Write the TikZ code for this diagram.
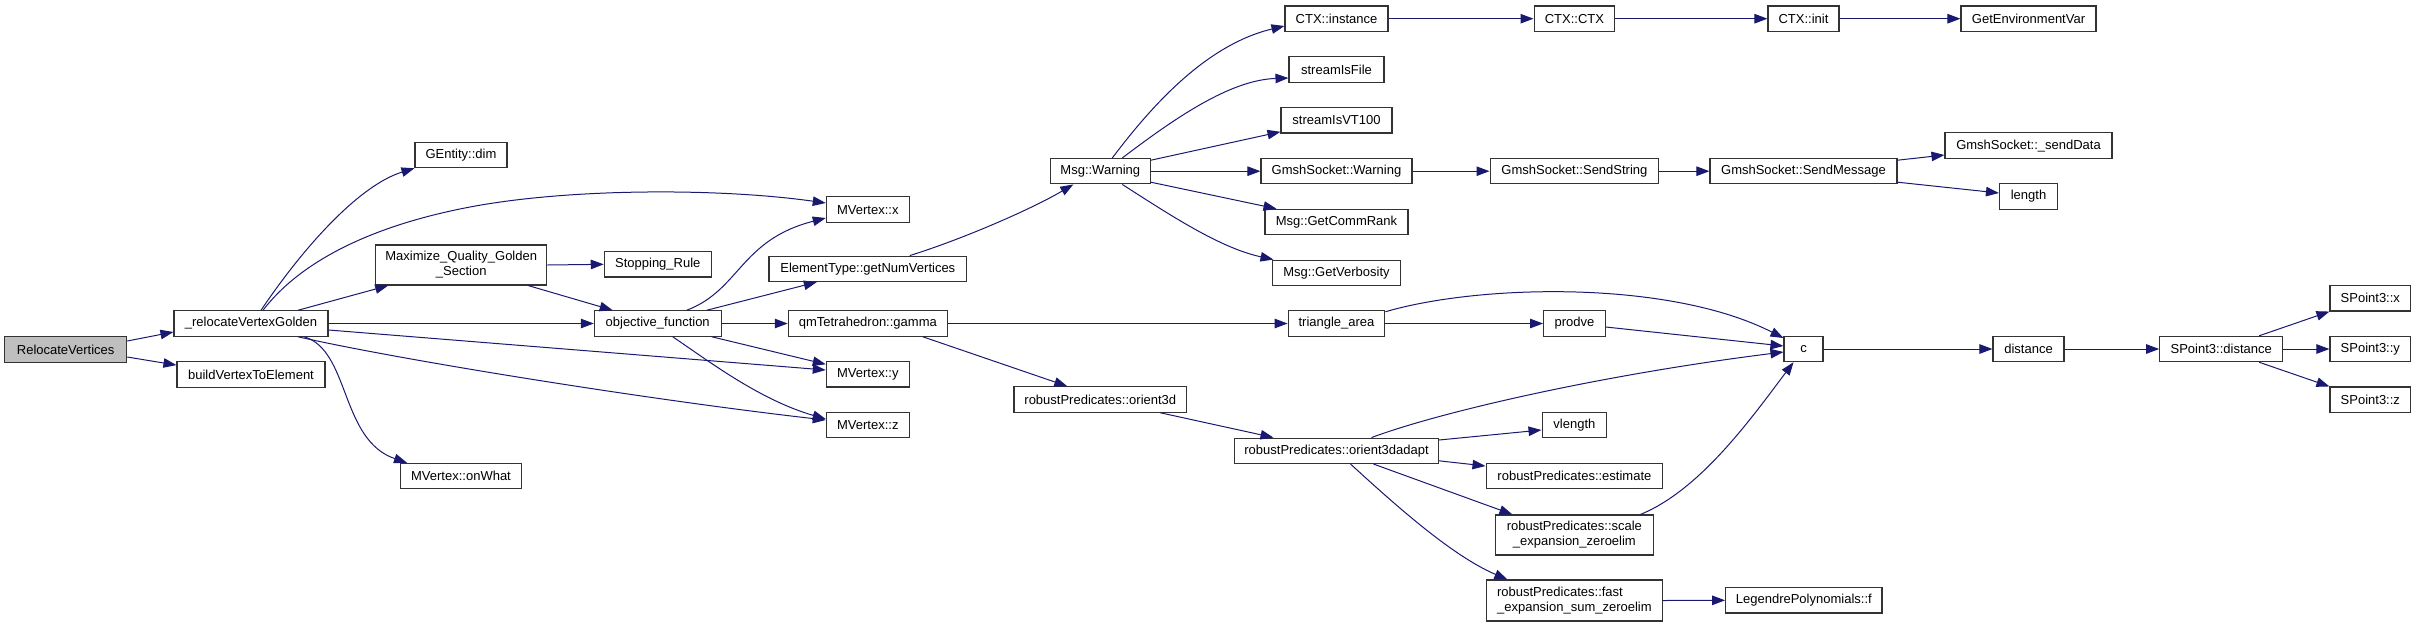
\documentclass[tikz,border=0pt]{standalone}
\usepackage{fontspec}
\setmainfont{Liberation Sans}
\usetikzlibrary{arrows.meta}
\definecolor{edgec}{HTML}{191970}
\definecolor{rootfill}{HTML}{BFBFBF}
\definecolor{boxline}{HTML}{333333}
\tikzset{
 fn/.style={draw=boxline, line width=1.1pt, fill=white, inner sep=0pt, minimum height=25.4pt, font=\fontsize{13}{15}\selectfont, align=center},
 fntwo/.style={fn, minimum height=40pt},
 call/.style={draw=edgec, line width=1pt, -{Triangle[length=13pt,width=9.5pt]}},
}
\begin{document}
\begin{tikzpicture}[x=1pt,y=-1pt]
\useasboundingbox (0,0) rectangle (2416,625);
% rank 0
\node[fn, minimum width=122pt, fill=rootfill] (rv) at (65.7,349.4) {RelocateVertices};
% rank 1
\node[fn, minimum width=154pt] (rvg) at (251,323.5) {\_relocateVertexGolden};
\node[fn, minimum width=148pt] (bvte) at (251,374.6) {buildVertexToElement};
% rank 2
\node[fn, minimum width=92pt] (gdim) at (461,155) {GEntity::dim};
\node[fntwo, minimum width=171pt] (maxq) at (461.2,265) {Maximize\_Quality\_Golden\\\_Section};
\node[fn, minimum width=120.6pt] (onwhat) at (461,476) {MVertex::onWhat};
% rank 3
\node[fn, minimum width=107pt] (stop) at (657.8,264.3) {Stopping\_Rule};
\node[fn, minimum width=126.7pt] (objf) at (657.7,323.5) {objective\_function};
% rank 4
\node[fn, minimum width=83pt] (mvx) at (867.8,209.6) {MVertex::x};
\node[fn, minimum width=197.7pt] (getnv) at (867.8,268.8) {ElementType::getNumVertices};
\node[fn, minimum width=159pt] (gamma) at (867.8,323.5) {qmTetrahedron::gamma};
\node[fn, minimum width=83pt] (mvy) at (867.8,374.3) {MVertex::y};
\node[fn, minimum width=83pt] (mvz) at (867.8,425) {MVertex::z};
% rank 5
\node[fn, minimum width=100pt] (warn) at (1100.3,171.2) {Msg::Warning};
\node[fn, minimum width=172.7pt] (orient3d) at (1100.3,399.5) {robustPredicates::orient3d};
% rank 6
\node[fn, minimum width=103pt] (ctxi) at (1336.5,18.7) {CTX::instance};
\node[fn, minimum width=95pt] (sfile) at (1336.5,69.5) {streamIsFile};
\node[fn, minimum width=111pt] (svt) at (1336.5,120.3) {streamIsVT100};
\node[fn, minimum width=151pt] (gsw) at (1336.5,171.2) {GmshSocket::Warning};
\node[fn, minimum width=143pt] (rank) at (1336.5,222) {Msg::GetCommRank};
\node[fn, minimum width=128.7pt] (verb) at (1336.5,272.8) {Msg::GetVerbosity};
\node[fn, minimum width=96.7pt] (tri) at (1336.5,323.5) {triangle\_area};
\node[fn, minimum width=204pt] (adapt) at (1336.5,450.8) {robustPredicates::orient3dadapt};
% rank 7
\node[fn, minimum width=80.7pt] (ctxc) at (1574.4,18.7) {CTX::CTX};
\node[fn, minimum width=168.7pt] (sstr) at (1574.4,171.2) {GmshSocket::SendString};
\node[fn, minimum width=61.6pt] (prodve) at (1574.4,323.5) {prodve};
\node[fn, minimum width=64.7pt] (vlen) at (1574.4,425) {vlength};
\node[fn, minimum width=176.7pt] (est) at (1574.4,476) {robustPredicates::estimate};
\node[fntwo, minimum width=158pt] (scale) at (1574.4,535) {robustPredicates::scale\\\_expansion\_zeroelim};
\node[fntwo, minimum width=175.3pt, minimum height=41pt, align=left] (fast) at (1574.4,600.5) {robustPredicates::fast\\\_expansion\_sum\_zeroelim};
% rank 8
\node[fn, minimum width=71pt] (ctxinit) at (1803.5,18.7) {CTX::init};
\node[fn, minimum width=187pt] (smsg) at (1803.5,171.2) {GmshSocket::SendMessage};
\node[fn, minimum width=39pt] (c) at (1803.5,349) {c};
\node[fn, minimum width=156.3pt] (leg) at (1803.8,600.3) {LegendrePolynomials::f};
% rank 9
\node[fn, minimum width=135pt] (genv) at (2028.5,18.7) {GetEnvironmentVar};
\node[fn, minimum width=167pt] (sdata) at (2028.5,145.6) {GmshSocket::\_sendData};
\node[fn, minimum width=58pt] (length) at (2028.5,196.6) {length};
\node[fn, minimum width=71pt] (dist) at (2028.5,349) {distance};
% rank 10
\node[fn, minimum width=123pt] (spd) at (2221.2,349) {SPoint3::distance};
% rank 11
\node[fn, minimum width=80.7pt] (spx) at (2370.3,298.3) {SPoint3::x};
\node[fn, minimum width=80.7pt] (spy) at (2370.3,349) {SPoint3::y};
\node[fn, minimum width=80.7pt] (spz) at (2370.3,399.7) {SPoint3::z};

% edges
\draw[call] ([shift={(0,-8.4)}]rv.east) -- ([shift={(0,8.5)}]rvg.west);
\draw[call] ([shift={(0,7.6)}]rv.east) -- ([shift={(0,-9.5)}]bvte.west);
\draw[call] ([shift={(10,0)}]rvg.north) .. controls (305,245) and (360,185) .. (gdim.south west);
\draw[call] ([shift={(12,0)}]rvg.north) .. controls (300,262) and (370,226) .. (470,207) .. controls (570,188) and (720,188) .. ([shift={(0,-6.6)}]mvx.west);
\draw[call] ([shift={(47,0)}]rvg.north) -- ([shift={(-73,0)}]maxq.south);
\draw[call] (rvg.east) -- (objf.west);
\draw[call] ([shift={(0,6.5)}]rvg.east) -- ([shift={(0,-4.3)}]mvy.west);
\draw[call] ([shift={(47,0)}]rvg.south) .. controls (400,360) and (650,400) .. ([shift={(0,-5)}]mvz.west);
\draw[call] ([shift={(53,0)}]rvg.south) .. controls (350,350) and (340,440) .. ([shift={(-54,0)}]onwhat.north);
\draw[call] (maxq.east) -- (stop.west);
\draw[call] ([shift={(67,0)}]maxq.south) -- ([shift={(-45,0)}]objf.north);
\draw[call] ([shift={(29,0)}]objf.north) .. controls (740,290) and (740,240) .. ([shift={(0,8.4)}]mvx.west);
\draw[call] ([shift={(49,0)}]objf.north) -- ([shift={(-51,0)}]getnv.south);
\draw[call] (objf.east) -- (gamma.west);
\draw[call] ([shift={(54,0)}]objf.south) -- ([shift={(0,-10)}]mvy.west);
\draw[call] ([shift={(15,0)}]objf.south) .. controls (710,362) and (760,400) .. ([shift={(0,-6)}]mvz.west);
\draw[call] ([shift={(42,0)}]getnv.north) .. controls (960,240) and (1030,210) .. ([shift={(-27,0)}]warn.south);
\draw[call] (gamma.east) -- (tri.west);
\draw[call] ([shift={(55,0)}]gamma.south) -- ([shift={(-33,0)}]orient3d.north);
\draw[call] ([shift={(12,0)}]warn.north) .. controls (1150,108) and (1205,45) .. ([shift={(0,7.3)}]ctxi.west);
\draw[call] ([shift={(22,0)}]warn.north) .. controls (1175,118) and (1230,80) .. ([shift={(0,8.5)}]sfile.west);
\draw[call] ([shift={(0,-11)}]warn.east) -- ([shift={(0,11.5)}]svt.west);
\draw[call] (warn.east) -- (gsw.west);
\draw[call] ([shift={(0,11)}]warn.east) -- ([shift={(-60,0)}]rank.north);
\draw[call] ([shift={(22,0)}]warn.south) .. controls (1170,215) and (1220,248) .. ([shift={(-63,0)}]verb.north);
\draw[call] (ctxi.east) -- (ctxc.west);
\draw[call] (ctxc.east) -- (ctxinit.west);
\draw[call] (ctxinit.east) -- (genv.west);
\draw[call] (gsw.east) -- (sstr.west);
\draw[call] (sstr.east) -- (smsg.west);
\draw[call] ([shift={(0,-11)}]smsg.east) -- ([shift={(0,9.4)}]sdata.west);
\draw[call] ([shift={(0,11)}]smsg.east) -- ([shift={(0,-3.6)}]length.west);
\draw[call] ([shift={(0,1.5)}]tri.north east) .. controls (1480,284) and (1670,280) .. ([shift={(0,-11)}]c.west);
\draw[call] (tri.east) -- (prodve.west);
\draw[call] ([shift={(0,3.5)}]prodve.east) -- ([shift={(0,-3)}]c.west);
\draw[call] ([shift={(35,0)}]adapt.north) .. controls (1440,412) and (1600,375) .. ([shift={(0,3)}]c.west);
\draw[call] ([shift={(0,-10.8)}]adapt.east) -- ([shift={(0,5)}]vlen.west);
\draw[call] ([shift={(0,10)}]adapt.east) -- ([shift={(0,-10)}]est.west);
\draw[call] ([shift={(37,0)}]adapt.south) -- ([shift={(-62,0)}]scale.north);
\draw[call] ([shift={(14,0)}]adapt.south) .. controls (1390,500) and (1450,555) .. ([shift={(-67,0)}]fast.north);
\draw[call] ([shift={(66,0)}]scale.north) .. controls (1700,490) and (1750,420) .. ([shift={(-10,0)}]c.south);
\draw[call] ([shift={(60,0)}]orient3d.south) -- ([shift={(-63,0)}]adapt.north);
\draw[call] (fast.east) -- (leg.west);
\draw[call] (c.east) -- (dist.west);
\draw[call] (dist.east) -- (spd.west);
\draw[call] ([shift={(38,0)}]spd.north) -- (spx.south west);
\draw[call] (spd.east) -- (spy.west);
\draw[call] ([shift={(38,0)}]spd.south) -- (spz.north west);
\end{tikzpicture}
\end{document}
